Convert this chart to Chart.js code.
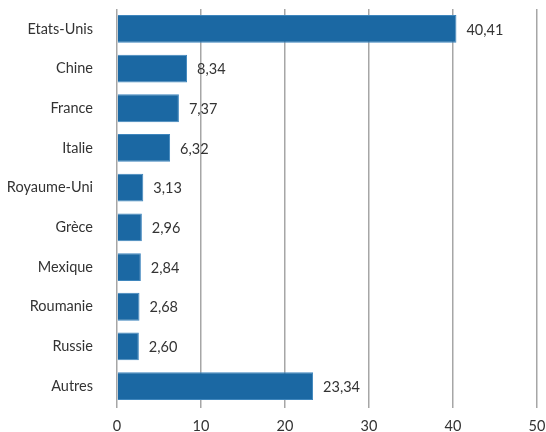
<!DOCTYPE html>
<html>
<head>
<meta charset="utf-8">
<script src="https://cdn.jsdelivr.net/npm/chart.js@4"></script>
<style>
  html, body { margin: 0; padding: 0; background: #fff; }
  #wrap { width: 546px; height: 432px; }
</style>
</head>
<body>
<div id="wrap"><canvas id="chart"></canvas></div>
<script>
const categories = ['Etats-Unis', 'Chine', 'France', 'Italie', 'Royaume-Uni', 'Grèce', 'Mexique', 'Roumanie', 'Russie', 'Autres'];
const values = [40.41, 8.34, 7.37, 6.32, 3.13, 2.96, 2.84, 2.68, 2.60, 23.34];
const xTicks = [0, 10, 20, 30, 40, 50];

const fontFamily = 'Lato, "Open Sans", sans-serif';

// étiquettes de valeur au bout des barres
const valueLabels = {
    id: 'valueLabels',
    afterDatasetsDraw(chart) {
        const ctx = chart.ctx;
        const meta = chart.getDatasetMeta(0);
        ctx.save();
        ctx.font = '14.5px ' + fontFamily;
        ctx.fillStyle = '#333';
        ctx.textAlign = 'left';
        ctx.textBaseline = 'middle';
        meta.data.forEach((bar, i) => {
            const txt = values[i].toFixed(2).replace('.', ',');
            ctx.fillText(txt, bar.x + 10, bar.y + 1);
        });
        ctx.restore();
    }
};

new Chart(document.getElementById('chart'), {
    type: 'bar',
    data: {
        labels: categories,
        datasets: [{
            data: values,
            backgroundColor: '#1b68a3',
            borderColor: '#3f86bd',
            borderWidth: 1,
            categoryPercentage: 1,
            barPercentage: 0.7
        }]
    },
    options: {
        indexAxis: 'y',
        responsive: true,
        maintainAspectRatio: false,
        animation: false,
        layout: { padding: { top: 9, right: 9, left: 0, bottom: 0 } },
        plugins: {
            legend: { display: false },
            tooltip: { enabled: false }
        },
        scales: {
            x: {
                min: 0,
                max: 50,
                afterBuildTicks: axis => { axis.ticks = xTicks.map(v => ({ value: v })); },
                afterFit: axis => { axis.height = 26; axis.paddingLeft = 0; axis.paddingRight = 0; },
                grid: { color: '#a6a6a6', lineWidth: 1.5, tickLength: 2, drawTicks: true },
                border: { display: false },
                ticks: { color: '#333', font: { family: fontFamily, size: 14.5 }, padding: 10 }
            },
            y: {
                afterFit: axis => { axis.width = 117; axis.paddingTop = 0; axis.paddingBottom = 0; },
                grid: { display: false },
                border: { display: false },
                ticks: { color: '#333', font: { family: fontFamily, size: 14.5 }, padding: 16 }
            }
        }
    },
    plugins: [valueLabels]
});
</script>
</body>
</html>
